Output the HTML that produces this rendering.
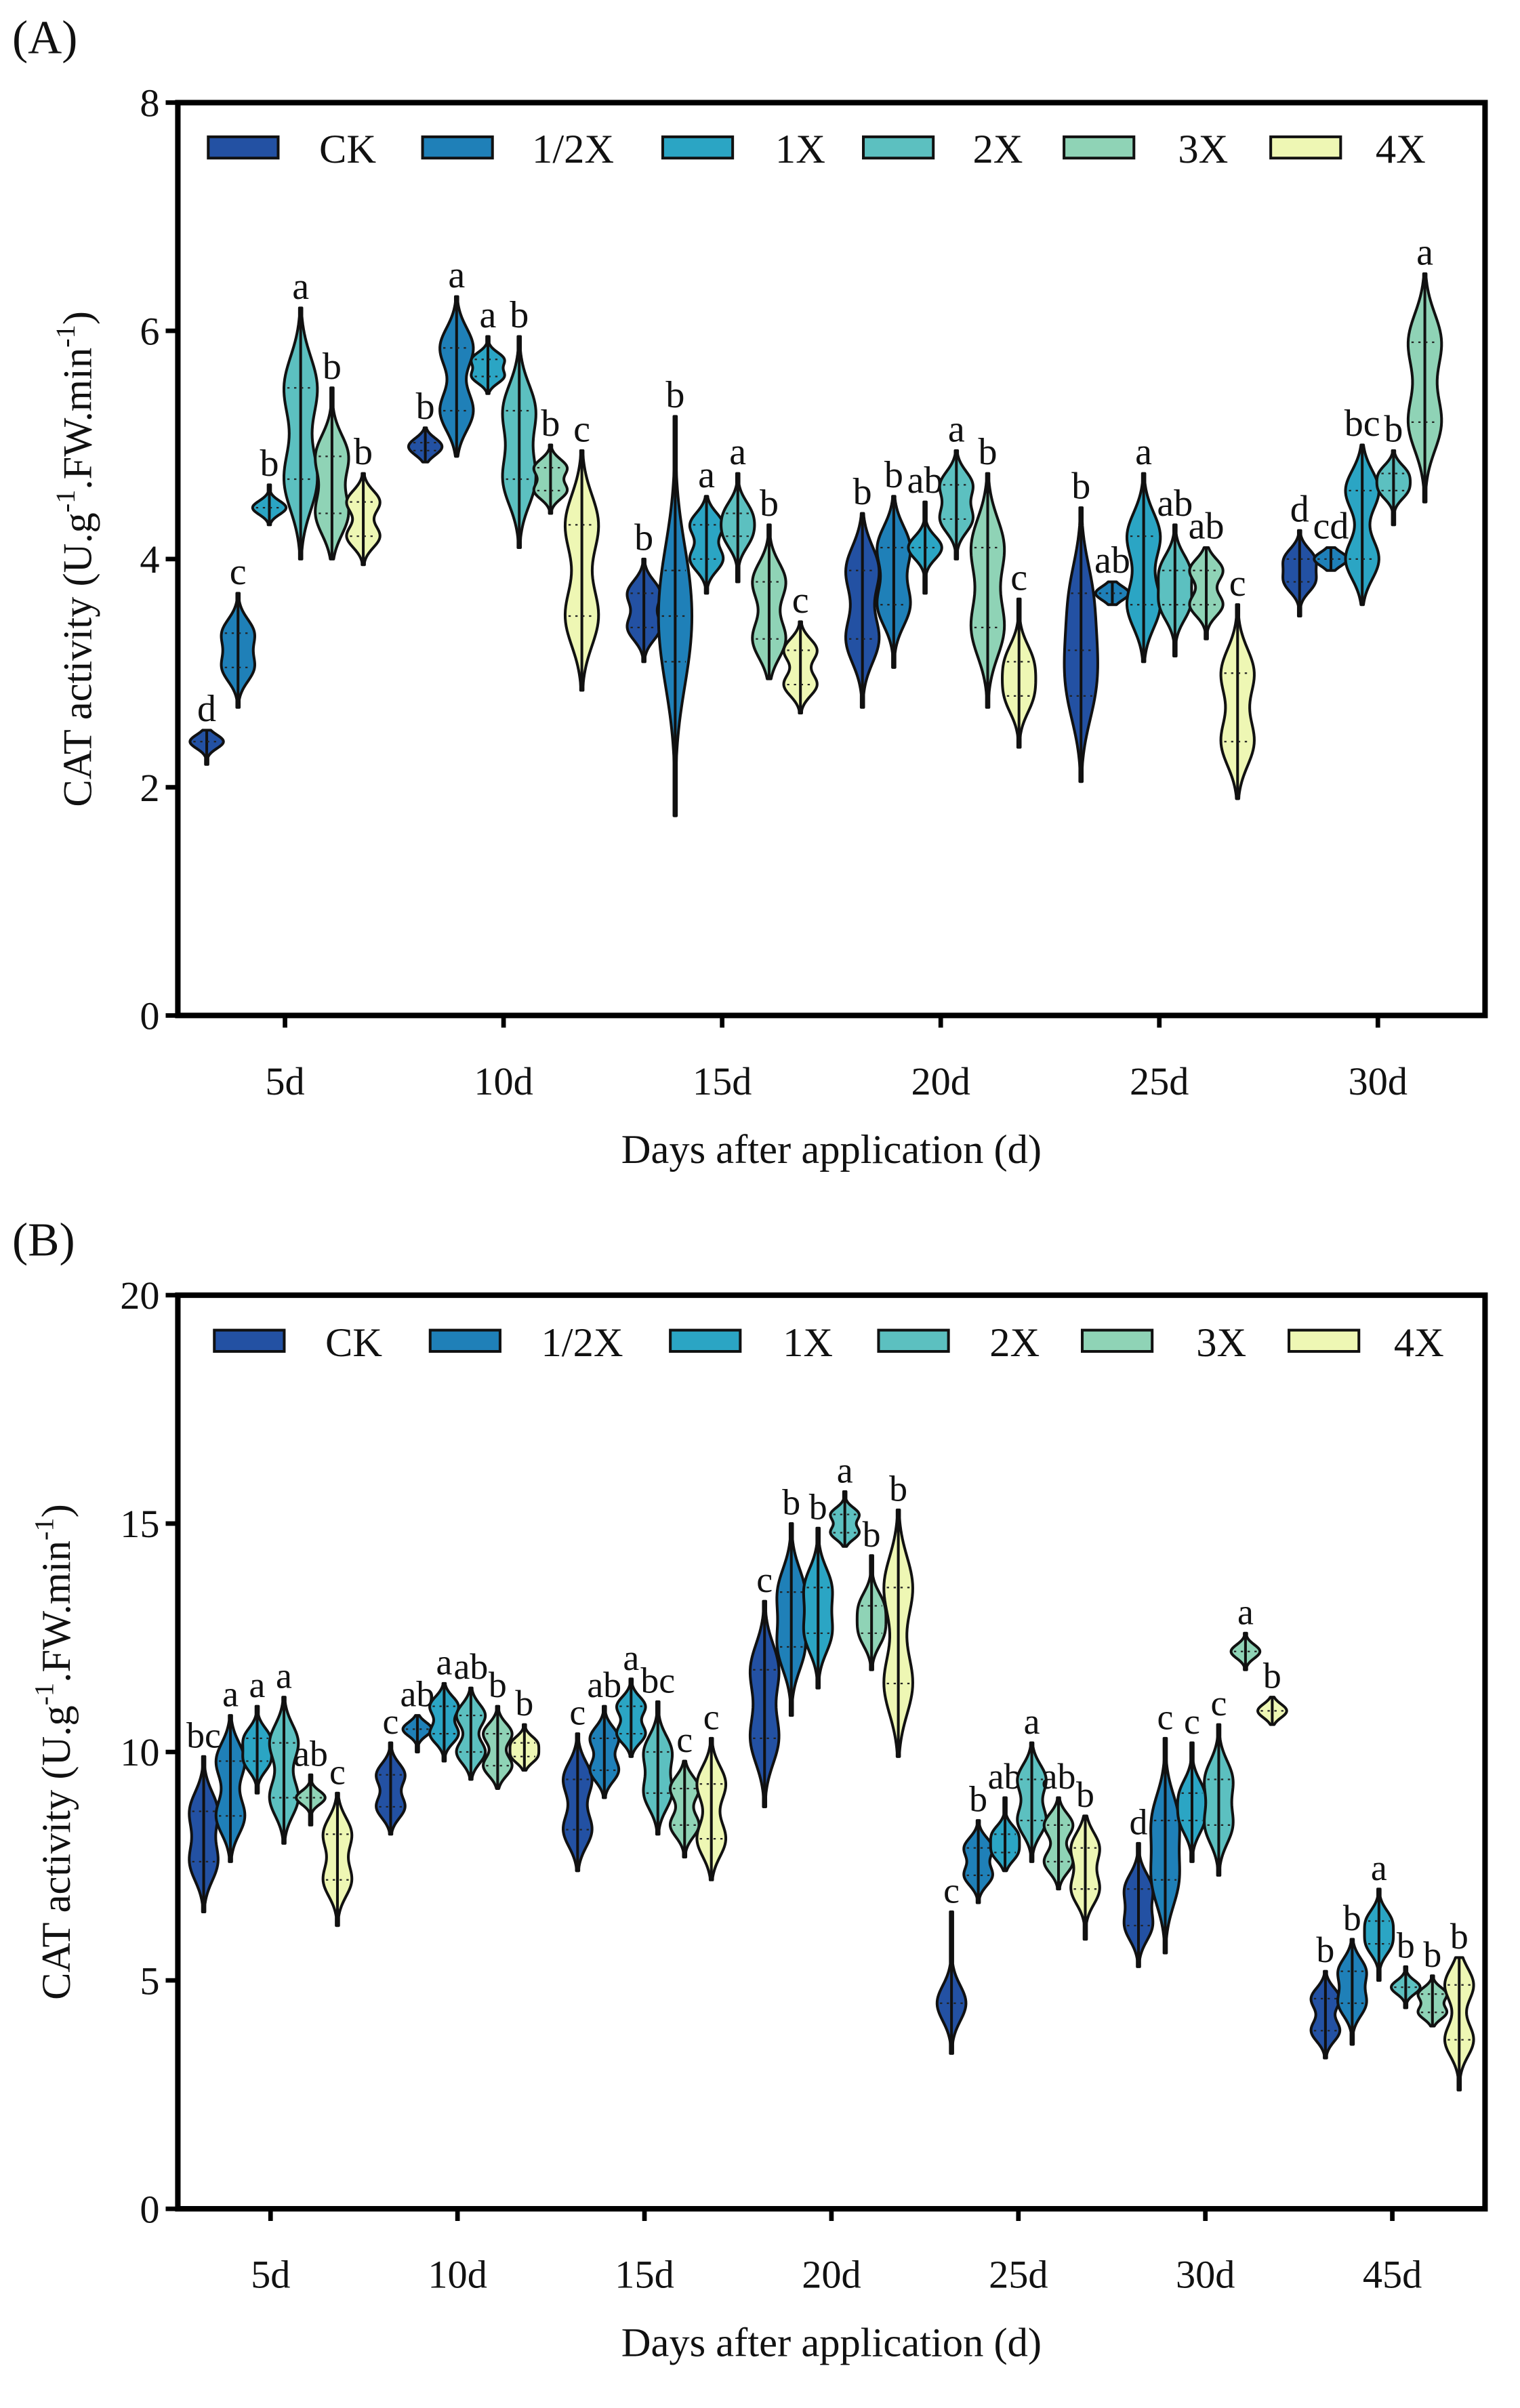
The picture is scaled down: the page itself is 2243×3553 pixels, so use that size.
<!DOCTYPE html>
<html><head><meta charset="utf-8">
<style>
html,body{margin:0;padding:0;background:#fff;}
svg{display:block;}
text{font-family:"Liberation Serif","DejaVu Serif",serif;fill:#111;}
</style></head>
<body>
<svg id="fig" xmlns="http://www.w3.org/2000/svg" width="2243" height="3553" viewBox="0 0 1000 1584.04">
<rect width="1000" height="1584.04" fill="#fff"/>
<g id="gA"></g>
<g id="gB"></g>
</svg>
<script>
const series = ["CK","1/2X","1X","2X","3X","4X"];
const colors = ["#2351a3","#1f80b8","#2ba5c4","#5cc0c0","#8fd3b6","#eef7b4"];
// Panel A data
const catsA = ["5d","10d","15d","20d","25d","30d"];
const ticksA = [0,2,4,6,8];
const minA = [[2.2,2.7,4.3,4.0,4.0,3.95],[4.85,4.9,5.45,4.1,4.4,2.85],[3.1,1.75,3.7,3.8,2.95,2.65],[2.7,3.05,3.7,4.0,2.7,2.35],[2.05,3.6,3.1,3.15,3.3,1.9],[3.5,3.9,3.6,4.3,4.5,null]];
const maxA = [[2.5,3.7,4.65,6.2,5.5,4.75],[5.15,6.3,5.95,5.95,5.0,4.95],[4.0,5.25,4.55,4.75,4.3,3.45],[4.4,4.55,4.5,4.95,4.75,3.65],[4.45,3.8,4.75,4.3,4.1,3.6],[4.25,4.1,5.0,4.95,6.5,null]];
const modesA = [[[2.4],[3.35,3.05],[4.45],[5.5,4.7],[4.9,4.4],[4.5,4.2]],[[5.02,4.95],[5.85,5.3],[5.75,5.6],[5.3,4.7],[4.8,4.6],[4.3,3.5]],[[3.7,3.4],[3.9,3.5,3.1],[4.3,4.0],[4.4,4.2],[3.8,3.3],[3.2,2.9]],[[3.9,3.3],[4.1,3.6],[4.1],[4.65,4.35],[4.1,3.4],[3.1,2.8]],[[3.7,3.2,2.8],[3.7],[4.2,3.6],[3.9,3.6],[3.9,3.6],[3.0,2.4]],[[4.0,3.8],[4.0],[4.6,4.0],[4.75,4.6],[5.9,5.2],null]];
const lettersA = [["d","c","b","a","b","b"],["b","a","a","b","b","c"],["b","b","a","a","b","c"],["b","b","ab","a","b","c"],["b","ab","a","ab","ab","c"],["d","cd","bc","b","a",null]];
// Panel B data
const catsB = ["5d","10d","15d","20d","25d","30d","45d"];
const ticksB = [0,5,10,15,20];
const minB = [[6.5,7.6,9.1,8.0,8.4,6.2],[8.2,10.0,9.8,9.4,9.2,9.6],[7.4,9.0,9.9,8.2,7.7,7.2],[8.8,10.8,11.4,14.5,11.8,9.9],[3.4,6.7,7.4,7.6,7.0,5.9],[5.3,5.6,7.6,7.3,11.8,10.6],[3.3,3.6,5.0,4.4,4.0,2.6]];
const maxB = [[9.9,10.8,11.0,11.2,9.5,9.1],[10.2,10.8,11.5,11.4,11.0,10.6],[10.4,11.0,11.6,11.1,9.8,10.3],[13.3,15.0,14.9,15.7,14.3,15.3],[6.5,8.5,9.0,10.2,9.0,8.6],[8.0,10.3,10.2,10.6,12.6,11.2],[5.2,5.9,7.0,5.3,5.1,5.5]];
const modesB = [[[8.7,7.6],[9.8,8.6],[10.3,9.8],[10.2,9.0],[9.0],[8.2,7.2]],[[9.5,8.8],[10.5],[11.0,10.4],[10.8,10.0],[10.4,9.7],[10.2,9.9]],[[9.4,8.3],[10.3,9.6],[11.0,10.4],[10.0,9.1],[9.2,8.4],[9.3,8.1]],[[11.8,10.3],[13.5,12.3],[13.6,12.6],[15.2,14.8],[13.2,12.6],[13.6,11.5]],[[4.5],[7.9,7.3],[8.2,7.8],[9.4,8.5],[8.4,7.6],[7.9,7.0]],[[7.0,6.2],[8.5,7.2],[9.1,8.5],[9.4,8.4],[12.2],[10.9]],[[4.6,3.9],[5.2,4.5],[6.3,5.8],[4.85],[4.7,4.3],[4.9,3.7]]];
const lettersB = [["bc","a","a","a","ab","c"],["c","ab","a","ab","b","b"],["c","ab","a","bc","c","c"],["c","b","b","a","b","b"],["c","b","ab","a","ab","b"],["d","c","c","c","a","b"],["b","b","a","b","b","b"]];

const NS="http://www.w3.org/2000/svg";
function mk(parent,tag,attrs){const e=document.createElementNS(NS,tag);for(const k in attrs)e.setAttribute(k,attrs[k]);parent.appendChild(e);return e;}

function drawPanel(g,cfg){
  const {L,R,T,B,yMax,ticks,cats,mins,maxs,modes,letters,step,spacing,W,label,labelY,legendY,fs}=cfg;
  const y=v=>B-(v/yMax)*(B-T);
  const firstC=cfg.firstC;
  const xc=i=>firstC+i*step;
  let t=mk(g,'text',{x:8,y:labelY,'font-size':31});
  t.textContent=label;
  
  
  let fr=mk(g,'path',{d:`M${L},${B} L${L},${T} L${R},${T} L${R},${B} Z`,fill:'none',stroke:'#000','stroke-width':3.6});
  
  
  ticks.forEach(v=>{
    let l=mk(g,'line',{x1:L-8,x2:L,y1:y(v),y2:y(v),stroke:'#000','stroke-width':3});
    
    
    let tt=mk(g,'text',{x:L-12,y:y(v)+9,'font-size':26,'text-anchor':'end'});
    tt.textContent=String(v);
    
    
  });
  cats.forEach((c,i)=>{
    let l=mk(g,'line',{x1:xc(i),x2:xc(i),y1:B,y2:B+8,stroke:'#000','stroke-width':3});
    
    
    let tt=mk(g,'text',{x:xc(i),y:B+52,'font-size':26,'text-anchor':'middle'});
    tt.textContent=c;
    
    
  });
  let xt=mk(g,'text',{x:(L+R)/2,y:B+97,'font-size':27,'text-anchor':'middle'});
  xt.textContent='Days after application (d)';
  
  
  let yt=mk(g,'text',{x:0,y:0,'font-size':27,'text-anchor':'middle',transform:`translate(${cfg.ytX},${(T+B)/2}) rotate(-90)`});
  
  
  yt.innerHTML='CAT activity (U.g<tspan dy="-11" font-size="18">-1</tspan><tspan dy="11">.FW.min</tspan><tspan dy="-11" font-size="18">-1</tspan><tspan dy="11">)</tspan>';
  const legX=cfg.legX;
  series.forEach((s,k)=>{
    const lx=legX[k];
    let r=mk(g,'rect',{x:lx,y:legendY-7,width:46,height:14,fill:colors[k],stroke:'#111','stroke-width':1.8});
    
    
    let tt=mk(g,'text',{x:lx+cfg.legTextOff[k],y:legendY+10,'font-size':27});
    tt.textContent=s;
    
    
  });
  cats.forEach((c,i)=>{
    series.forEach((s,k)=>{
      const mn=mins[i][k],mx=maxs[i][k],md=modes[i][k];
      if(mn===null||md===null)return;
      const cx=xc(i)+(k-2.5)*spacing;
      const sig=Math.max((mx-mn)/8,0.02*yMax/8*3);
      const N=60;const dens=[];
      for(let j=0;j<=N;j++){const v=mn+(mx-mn)*j/N;let f=0;md.forEach(m=>{f+=Math.exp(-0.5*((v-m)/sig)**2);});dens.push([v,f]);}
      const fm=Math.max(...dens.map(d=>d[1]));
      let right=[],left=[];
      dens.forEach(([v,f])=>{const hw=Math.max(W*f/fm,0.8);right.push(`${(cx+hw).toFixed(2)},${y(v).toFixed(2)}`);left.unshift(`${(cx-hw).toFixed(2)},${y(v).toFixed(2)}`);});
      let p=mk(g,'polygon',{points:right.concat(left).join(' '),fill:colors[k],stroke:'#111','stroke-width':1.8,'stroke-linejoin':'round'});
      
      
      let wl=mk(g,'line',{x1:cx,x2:cx,y1:y(mn),y2:y(mx),stroke:'#111','stroke-width':1.8});
      
      
      md.forEach(m=>{
        let f=0;md.forEach(mm=>{f+=Math.exp(-0.5*((m-mm)/sig)**2);});
        const hw=W*f/fm*0.8;
        let dl=mk(g,'line',{x1:cx-hw,x2:cx+hw,y1:y(m),y2:y(m),stroke:'#222','stroke-width':1,'stroke-dasharray':'1.5 3'});
        
        
      });
      let lt=mk(g,'text',{x:cx,y:y(mx)-6,'font-size':fs,'text-anchor':'middle'});
      lt.textContent=letters[i][k];
      
      
    });
  });
}
drawPanel(document.getElementById('gA'),{L:117,R:977,T:67.5,B:668,yMax:8,ticks:ticksA,cats:catsA,mins:minA,maxs:maxA,modes:modesA,letters:lettersA,firstC:187.5,step:143.8,spacing:20.6,W:11,label:'(A)',labelY:35,legendY:97,fs:25,ytX:60,
  legX:[137,278,436,568,700,836],legTextOff:[73,72,74,72,75,69]});
drawPanel(document.getElementById('gB'),{L:117,R:977,T:852,B:1453,yMax:20,ticks:ticksB,cats:catsB,mins:minB,maxs:maxB,modes:modesB,letters:lettersB,firstC:178,step:123,spacing:17.6,W:9.5,label:'(B)',labelY:826,legendY:882,fs:24,ytX:46,
  legX:[141,283,441,578,712,848],legTextOff:[73,73,74,73,75,69]});
</script>
</body></html>
